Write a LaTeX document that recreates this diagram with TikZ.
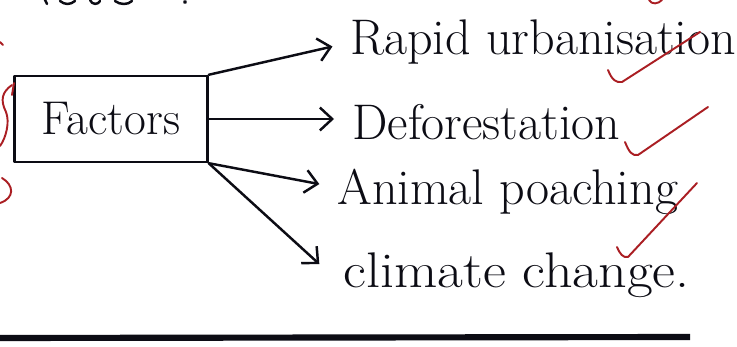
\documentclass[tikz,border=0pt]{standalone}
\usetikzlibrary{arrows.meta}
\definecolor{ink}{RGB}{12,12,20}
\definecolor{redink}{RGB}{170,30,35}
\tikzset{
  pen/.style={draw=ink, line width=1.4pt, line cap=round, line join=round},
  arrowline/.style={pen, -{Straight Barb[length=7pt,width=13pt,line width=1.4pt]}, shorten >=18*0.02cm},
  factorbox/.style={pen, minimum width=3.86cm, minimum height=1.72cm, inner sep=0pt,
    font=\fontsize{27}{32}\selectfont, text=ink},
  item/.style={anchor=base west, inner sep=0pt, text=ink, font=\fontsize{28.5}{32}\selectfont},
  redtick/.style={draw=redink, line width=1.1pt, line cap=round, line join=round},
}
\begin{document}
\begin{tikzpicture}[x=0.02cm,y=-0.02cm]
\useasboundingbox[fill=white] (0,0) rectangle (737,347);

% main box
\node[factorbox] (f) at (111,119) {Factors};

% items
\node[item] (t1) at (350,55) {Rapid urbanisation};
\node[item] (t2) at (352,140) {Deforestation};
\node[item] (t3) at (337,205) {Animal poaching};
\node[item, xscale=1.12, transform shape] (t4) at (343,288) {climate change.};

% connectors
\draw[arrowline] (f.north east) -- (t1.west);
\draw[arrowline] (f.east) -- (f.east -| t2.west);
\draw[arrowline] (f.south east) -- ([yshift=0.1cm]t3.west);
\draw[arrowline, shorten >=32*0.02cm] (f.south east) -- ([yshift=-0.2cm]t4.west);

% red ticks
\draw[redtick] (608,70) .. controls (612,80) and (616,83) .. (622,82) -- (700,32);
\draw[redtick] (625,142) .. controls (629,152) and (632,156) .. (638,155) -- (708,107);
\draw[redtick] (617,247) .. controls (620,254) and (623,258) .. (628,257) -- (697,183);

% partial red marks on the left edge and top
\draw[redtick] (0,42) -- (3,45);
\draw[redtick] (12,85) .. controls (2,92) and (0,100) .. (6,112) .. controls (10,122) and (6,138) .. (0,146);
\draw[redtick] (12,95) -- (14,83);
\draw[redtick] (2,178) .. controls (14,185) and (15,198) .. (0,203);
\draw[redtick] (649,0) .. controls (652,5) and (658,4) .. (662,0);

% partial handwriting at top
\draw[pen] (45,0) -- (47,4);
\draw[pen] (60,1) .. controls (65,5) and (70,5) .. (75,1);
\draw[pen] (90,0) .. controls (92,5) and (98,5) .. (100,1);
\draw[pen] (115,1) .. controls (120,5) and (128,5) .. (132,1);
\draw[pen] (185,2) circle (0.8);

% page edge at the bottom
\draw[ink, line width=3.5pt] (0,338) -- (690,337);
\end{tikzpicture}
\end{document}
